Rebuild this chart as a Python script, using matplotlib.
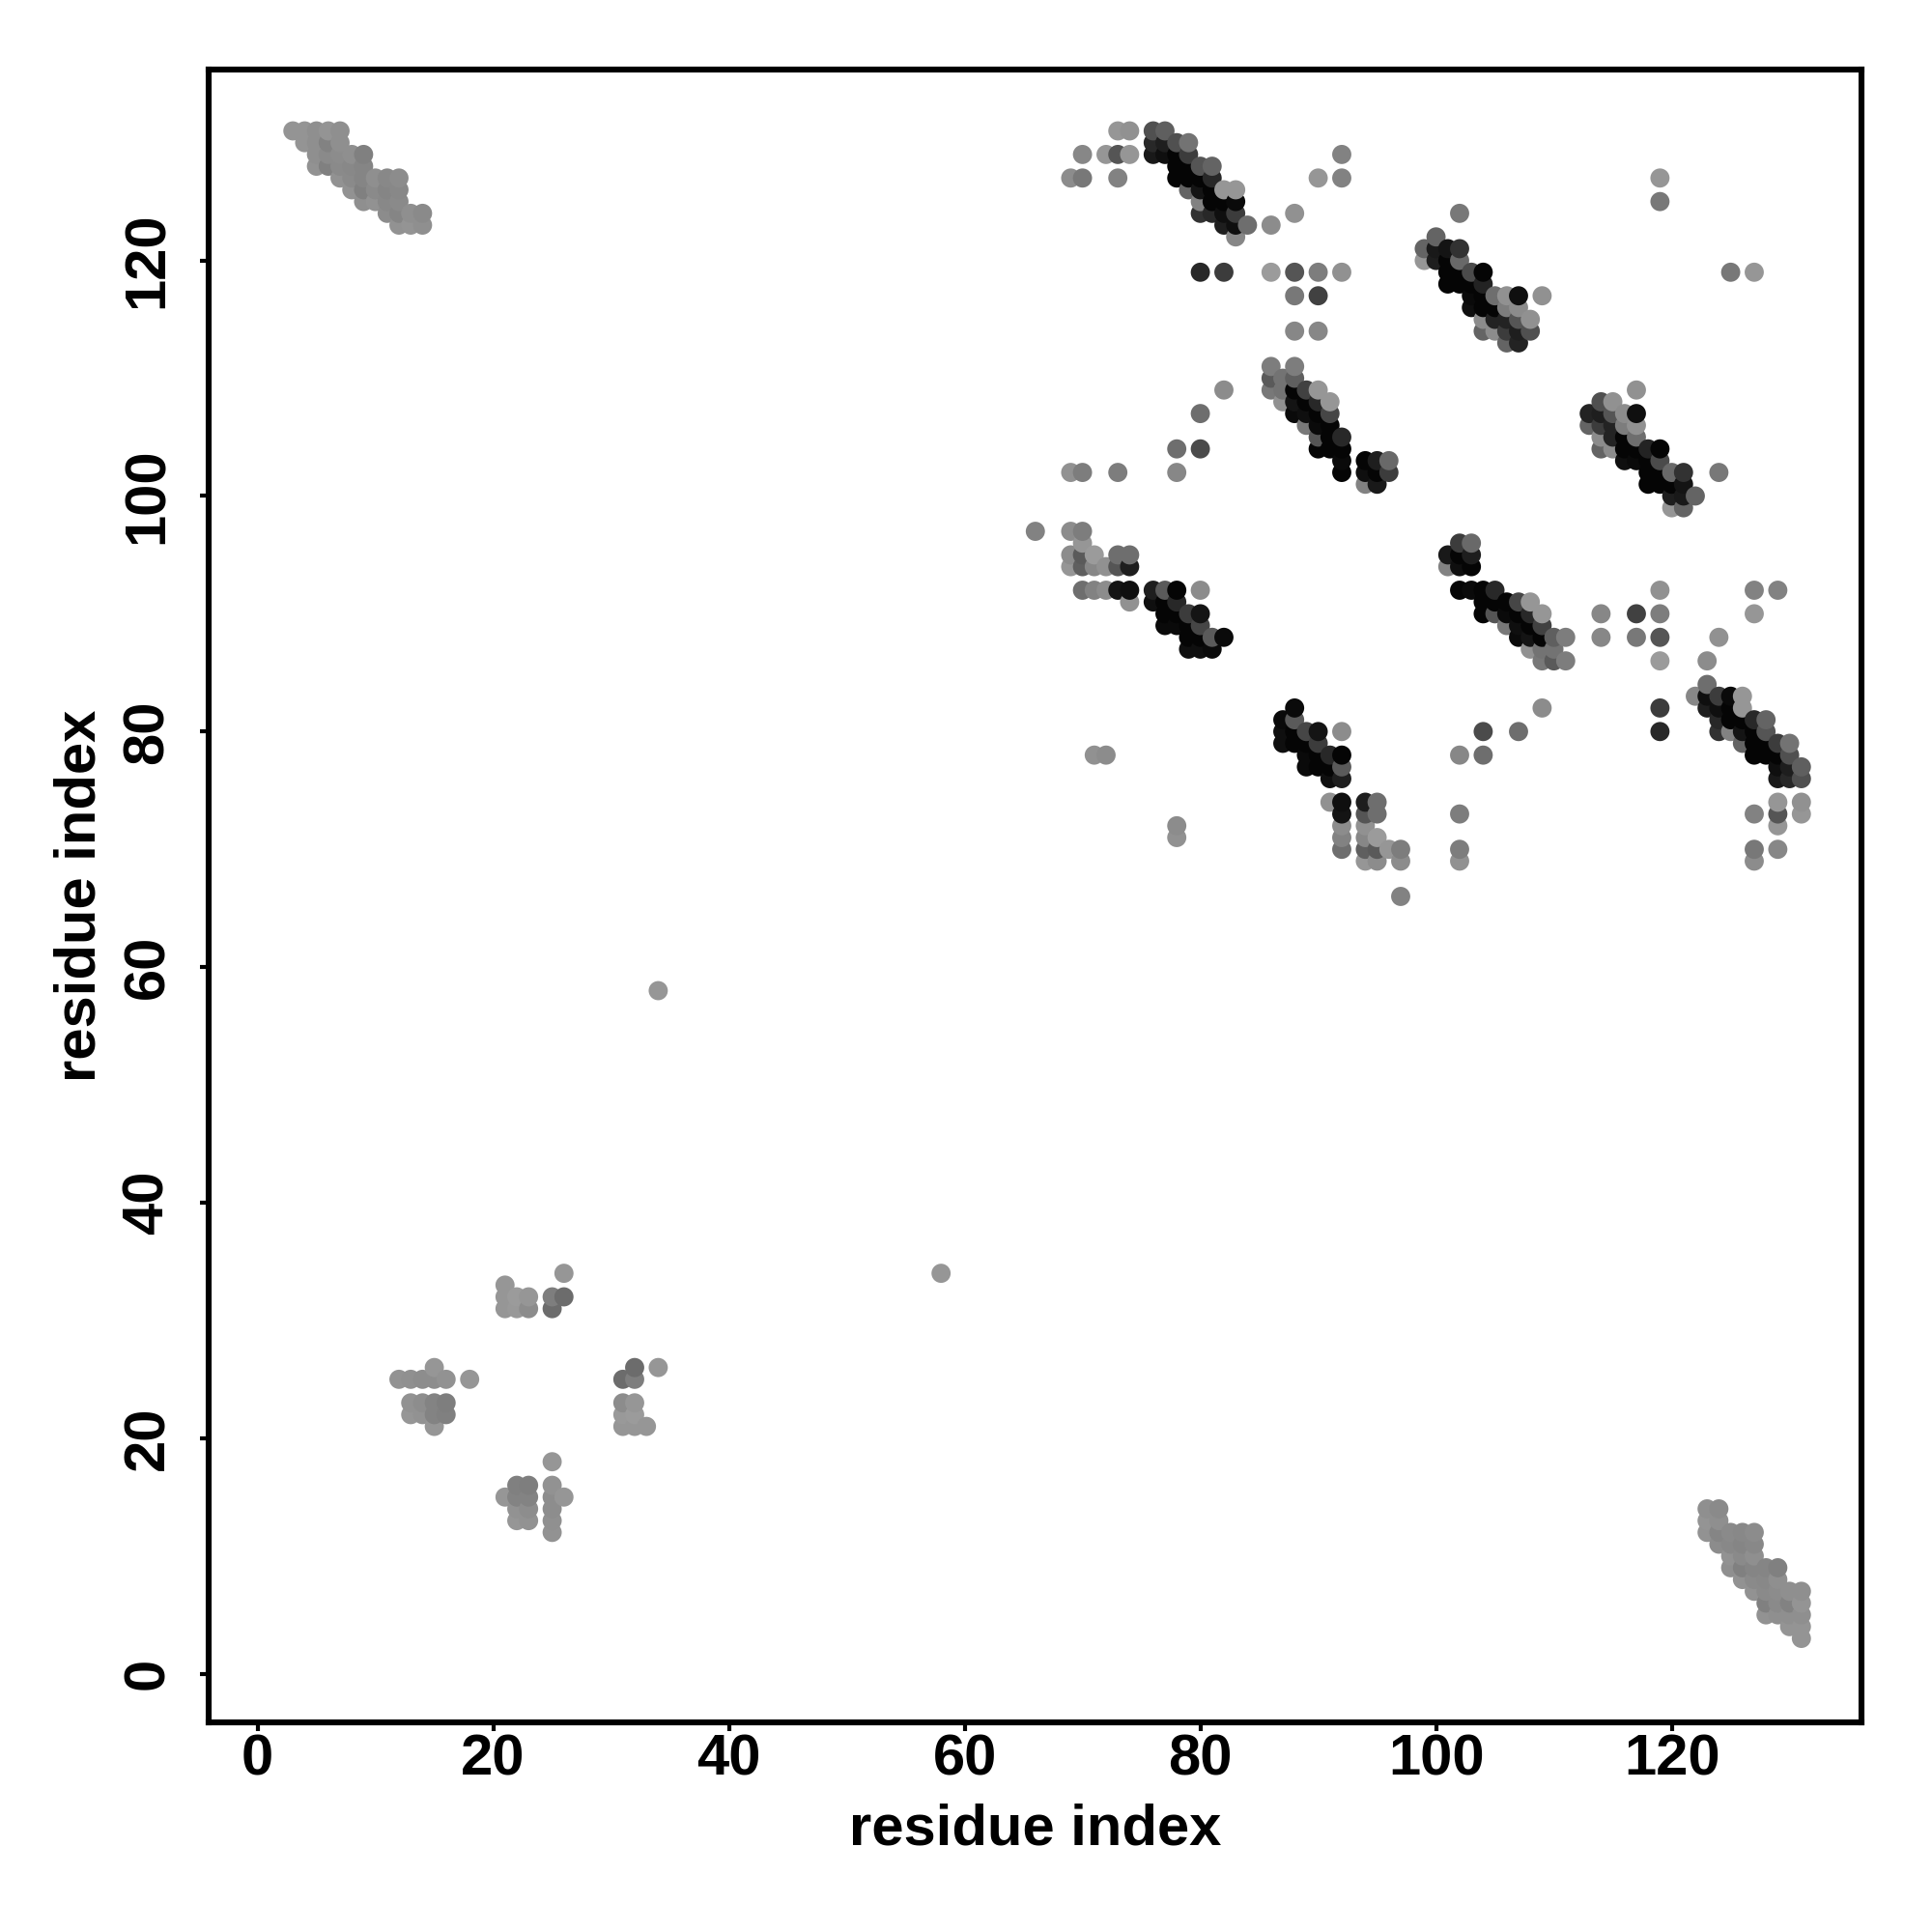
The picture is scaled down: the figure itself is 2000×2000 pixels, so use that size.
import numpy as np
import matplotlib
matplotlib.use("Agg")
import matplotlib.pyplot as plt

plt.rcParams['font.family'] = ['Liberation Sans', 'DejaVu Sans']

# Contacts (i, j, grey level 0-255), i < j; the map is symmetric.
helix_a_d = [
 (3,131,148),(4,131,148),(5,131,143),(6,131,148),(7,131,143),
 (4,130,148),(5,130,143),(6,130,130),(7,130,143),
 (5,129,143),(6,129,138),(7,129,140),(8,129,143),(9,129,128),
 (5,128,146),(6,128,128),(7,128,138),(8,128,136),(9,128,133),
 (7,127,146),(8,127,138),(9,127,133),(10,127,143),(11,127,136),(12,127,140),
 (8,126,146),(9,126,128),(10,126,138),(11,126,133),(12,126,136),
 (9,125,143),(10,125,146),(11,125,136),(12,125,138),
 (11,124,140),(12,124,133),(13,124,143),(14,124,138),
 (12,123,146),(13,123,148),(14,123,143),
]
cluster_low_1 = [
 (15,26,150),(12,25,146),(13,25,144),(14,25,141),(15,25,141),(16,25,146),(18,25,150),
 (13,23,146),(14,23,141),(15,23,131),(16,23,126),
 (13,22,150),(14,22,146),(15,22,131),(16,22,128),(15,21,150),
]
cluster_low_2 = [
 (26,34,150),(21,33,150),(21,32,150),(22,32,155),(23,32,150),(25,32,126),(26,32,108),
 (21,31,150),(22,31,153),(23,31,140),(25,31,108),
]
far_contact = [(34,58,150)]
cluster_b_top = [
 (73,131,150),(74,131,145),(76,131,80),(77,131,95),
 (76,130,40),(77,130,30),(78,130,80),(79,130,115),
 (70,129,135),(72,129,150),(73,129,85),(74,129,150),(76,129,25),(77,129,15),(78,129,5),(79,129,60),
 (78,128,5),(79,128,5),(80,128,85),(81,128,100),
 (69,127,140),(70,127,120),(73,127,130),(78,127,5),(79,127,5),(80,127,5),(81,127,40),
 (79,126,100),(80,126,20),(81,126,5),(82,126,150),(83,126,150),
 (80,125,130),(81,125,5),(82,125,5),(83,125,10),
 (80,124,50),(81,124,40),(82,124,15),(83,124,60),
 (82,123,30),(83,123,15),(84,123,110),(86,123,140),(83,122,135),
 (88,124,145),(90,127,150),(92,127,130),(92,129,130),
 (80,119,40),(82,119,60),(86,119,155),(88,119,85),(90,119,125),(92,119,145),
 (88,117,120),(90,117,65),(88,114,135),(90,114,135),
]
cluster_c_top = [
 (102,124,120),(100,122,100),
 (99,121,100),(100,121,25),(101,121,20),(102,121,50),
 (99,120,150),(100,120,30),(101,120,5),(102,120,105),
 (101,119,5),(102,119,5),(103,119,75),(104,119,5),
 (101,118,5),(102,118,5),(103,118,5),(104,118,35),
 (103,117,10),(104,117,5),(105,117,110),(106,117,145),(107,117,15),(109,117,145),
 (103,116,15),(104,116,5),(105,116,5),(106,116,125),(107,116,140),
 (104,115,140),(105,115,35),(106,115,35),(107,115,85),(108,115,145),
 (104,114,100),(105,114,140),(106,114,60),(107,114,30),(108,114,80),
 (106,113,100),(107,113,35),
 (119,127,150),(119,125,120),
]
cluster_d_top = [
 (78,104,110),(80,104,75),(78,102,135),(80,107,110),(82,109,140),
 (69,102,145),(70,102,125),(73,102,125),
 (86,111,125),(88,111,125),
 (86,110,90),(87,110,115),(88,110,95),
 (86,109,120),(87,109,115),(88,109,5),(89,109,65),(90,109,150),
 (87,108,145),(88,108,20),(89,108,5),(90,108,40),(91,108,150),
 (88,107,10),(89,107,15),(90,107,5),(91,107,70),
 (89,106,120),(90,106,10),(91,106,5),
 (90,105,85),(91,105,5),(92,105,40),
 (90,104,5),(91,104,5),(92,104,5),
 (92,103,10),(94,103,5),(95,103,30),(96,103,105),
 (92,102,5),(94,102,15),(95,102,5),(96,102,60),
 (94,101,130),(95,101,25),
]
cluster_e_top = [
 (66,97,130),(69,97,140),(70,97,125),(70,96,150),
 (69,95,140),(70,95,90),(71,95,155),(73,95,110),(74,95,110),
 (69,94,150),(70,94,95),(71,94,135),(72,94,145),(73,94,85),(74,94,30),
 (70,92,110),(71,92,130),(72,92,140),(73,92,20),(74,92,15),(76,92,30),(77,92,90),(78,92,5),(80,92,140),
 (74,91,145),(76,91,15),(77,91,5),(78,91,40),
 (77,90,5),(78,90,5),(79,90,60),(80,90,20),
 (77,89,10),(78,89,10),(79,89,5),(80,89,70),
 (79,88,5),(80,88,5),(81,88,90),(82,88,10),
 (79,87,15),(80,87,15),(81,87,10),
 (71,78,145),(72,78,140),
]

groups = [helix_a_d, cluster_low_1, cluster_low_2, far_contact, cluster_b_top,
          cluster_c_top, cluster_d_top, cluster_e_top]

seen = {}
for g in groups:
    for a, b, v in g:
        seen[(min(a, b), max(a, b))] = v
res_a = np.array([k[0] for k in seen])
res_b = np.array([k[1] for k in seen])
shade = np.array(list(seen.values()), dtype=float)

xs = np.concatenate([res_a, res_b])
ys = np.concatenate([res_b, res_a])
vs = np.concatenate([shade, shade])
order = np.lexsort((ys, xs))

x_ticks = [0, 20, 40, 60, 80, 100, 120]
axis_label = "residue index"

fig = plt.figure(figsize=(10, 10), dpi=200)
ax = fig.add_axes([215.6/2000, 1-1783/2000, (1927-215.6)/2000, (1783-71.5)/2000])
ax.scatter(xs[order], ys[order], c=vs[order], cmap='gray', vmin=0, vmax=255,
           s=51, linewidths=0, zorder=3)
ax.set_xlim(-4.18, 136.1)
ax.set_ylim(-4.13, 136.25)
ax.set_xticks(x_ticks)
ax.set_yticks(x_ticks)
for s in ax.spines.values():
    s.set_linewidth(2.2)
ax.tick_params(axis='both', length=3.2, width=1.5, direction='out')
ax.tick_params(axis='x', pad=1)
ax.tick_params(axis='y', pad=9.3)
for t in ax.get_xticklabels():
    t.set_fontsize(21.5); t.set_fontweight('bold')
for t in ax.get_yticklabels():
    t.set_fontsize(21.5); t.set_fontweight('bold')
    t.set_rotation(90); t.set_va('center')
ax.set_xlabel(axis_label, fontsize=21.5, fontweight='bold', labelpad=6)
ax.set_ylabel(axis_label, fontsize=21.5, fontweight='bold', labelpad=5.7)
fig.savefig('out.png', dpi=200, facecolor='white')
